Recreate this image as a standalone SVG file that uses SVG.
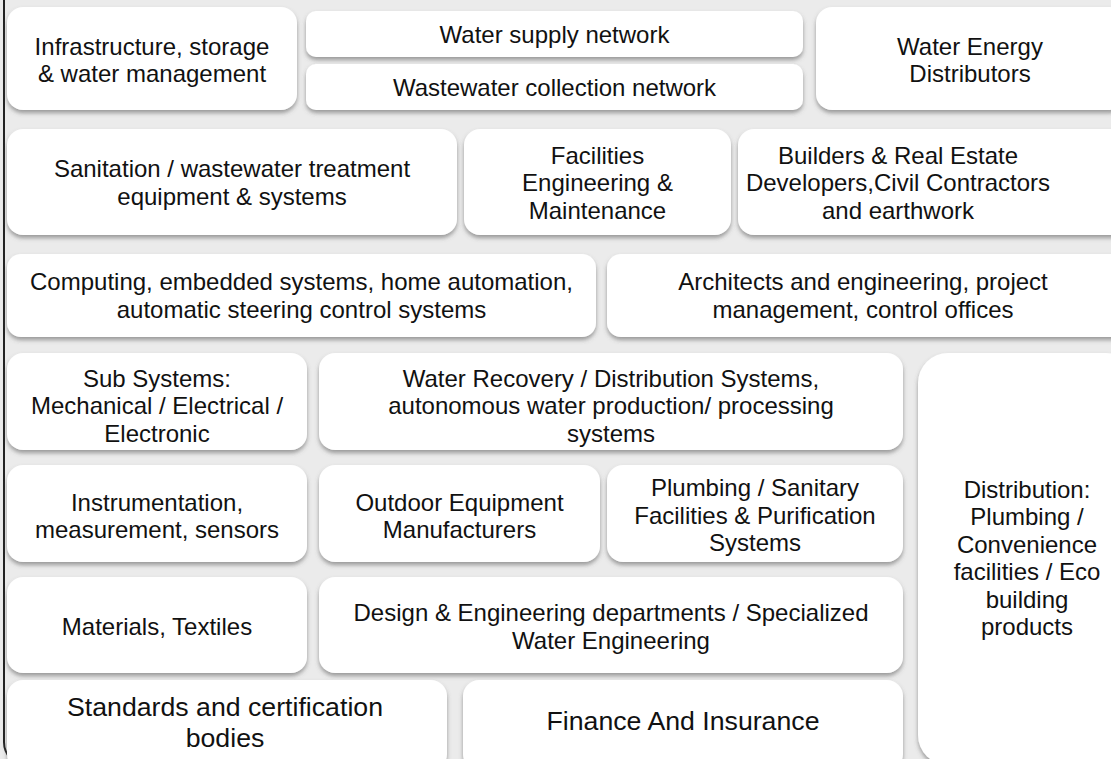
<svg xmlns="http://www.w3.org/2000/svg" width="1111" height="759" viewBox="0 0 1111 759">
<defs>
<filter id="sh" x="-10%" y="-20%" width="120%" height="150%">
<feDropShadow dx="0" dy="3" stdDeviation="2.2" flood-color="#555" flood-opacity="0.55"/>
</filter>
<style>
.b{fill:#fff;filter:url(#sh)}
.t{font-family:"Liberation Sans",Arial,sans-serif;font-size:24px;fill:#111;text-anchor:middle}
.L{font-size:26.7px}
</style>
</defs>
<rect x="0" y="0" width="1111" height="759" fill="#ebebeb"/>
<rect x="4" y="-40" width="1200" height="806" rx="24" fill="none" stroke="#222" stroke-width="2"/>
<g id="n1"><rect class="b" x="7" y="7" width="290" height="103" rx="16"/><text class="t" x="152" y="55">Infrastructure, storage</text><text class="t" x="152" y="82">&amp; water management</text></g>
<g id="n2"><rect class="b" x="306" y="11" width="497" height="46" rx="10"/><text class="t" x="554.5" y="42.5">Water supply network</text></g>
<g id="n3"><rect class="b" x="306" y="64" width="497" height="46" rx="10"/><text class="t" x="554.5" y="96">Wastewater collection network</text></g>
<g id="n4"><rect class="b" x="816" y="7" width="310" height="103" rx="16"/><text class="t" x="970" y="55">Water Energy</text><text class="t" x="970" y="82">Distributors</text></g>
<g id="n5"><rect class="b" x="7" y="129" width="450" height="106" rx="16"/><text class="t" x="232" y="177">Sanitation / wastewater treatment</text><text class="t" x="232" y="204.5">equipment &amp; systems</text></g>
<g id="n6"><rect class="b" x="464" y="129" width="267" height="106" rx="16"/><text class="t" x="597.5" y="163.5">Facilities</text><text class="t" x="597.5" y="191">Engineering &amp;</text><text class="t" x="597.5" y="218.5">Maintenance</text></g>
<g id="n7"><rect class="b" x="738" y="129" width="390" height="106" rx="16"/><text class="t" x="898" y="163.5">Builders &amp; Real Estate</text><text class="t" x="898" y="191">Developers,Civil Contractors</text><text class="t" x="898" y="218.5">and earthwork</text></g>
<g id="n8"><rect class="b" x="7" y="254" width="589" height="83" rx="14"/><text class="t" x="301.5" y="290">Computing, embedded systems, home automation,</text><text class="t" x="301.5" y="317.5">automatic steering control systems</text></g>
<g id="n9"><rect class="b" x="607" y="254" width="520" height="83" rx="14"/><text class="t" x="863" y="290">Architects and engineering, project</text><text class="t" x="863" y="317.5">management, control offices</text></g>
<g id="n10"><rect class="b" x="7" y="353" width="300" height="97" rx="16"/><text class="t" x="157" y="386.5">Sub Systems:</text><text class="t" x="157" y="414">Mechanical / Electrical /</text><text class="t" x="157" y="441.5">Electronic</text></g>
<g id="n11"><rect class="b" x="319" y="353" width="584" height="97" rx="16"/><text class="t" x="611" y="386.5">Water Recovery / Distribution Systems,</text><text class="t" x="611" y="414">autonomous water production/ processing</text><text class="t" x="611" y="441.5">systems</text></g>
<g id="n12"><rect class="b" x="918" y="353" width="218" height="412" rx="30"/><text class="t" x="1027" y="497.5">Distribution:</text><text class="t" x="1027" y="525">Plumbing /</text><text class="t" x="1027" y="552.5">Convenience</text><text class="t" x="1027" y="580">facilities / Eco</text><text class="t" x="1027" y="607.5">building</text><text class="t" x="1027" y="635">products</text></g>
<g id="n13"><rect class="b" x="7" y="465" width="300" height="97" rx="16"/><text class="t" x="157" y="510.5">Instrumentation,</text><text class="t" x="157" y="538">measurement, sensors</text></g>
<g id="n14"><rect class="b" x="319" y="465" width="281" height="97" rx="16"/><text class="t" x="459.5" y="510.5">Outdoor Equipment</text><text class="t" x="459.5" y="538">Manufacturers</text></g>
<g id="n15"><rect class="b" x="607" y="465" width="296" height="97" rx="16"/><text class="t" x="755" y="496">Plumbing / Sanitary</text><text class="t" x="755" y="523.5">Facilities &amp; Purification</text><text class="t" x="755" y="551">Systems</text></g>
<g id="n16"><rect class="b" x="7" y="577" width="300" height="96" rx="16"/><text class="t" x="157" y="635">Materials, Textiles</text></g>
<g id="n17"><rect class="b" x="319" y="577" width="584" height="96" rx="16"/><text class="t" x="611" y="621">Design &amp; Engineering departments / Specialized</text><text class="t" x="611" y="648.5">Water Engineering</text></g>
<g id="n18"><rect class="b" x="7" y="680" width="440" height="90" rx="16"/><text class="t L" x="225" y="715.5">Standards and certification</text><text class="t L" x="225" y="746.5">bodies</text></g>
<g id="n19"><rect class="b" x="463" y="680" width="440" height="90" rx="16"/><text class="t L" x="683" y="729.5">Finance And Insurance</text></g>
<g id="connectors"/>
</svg>
